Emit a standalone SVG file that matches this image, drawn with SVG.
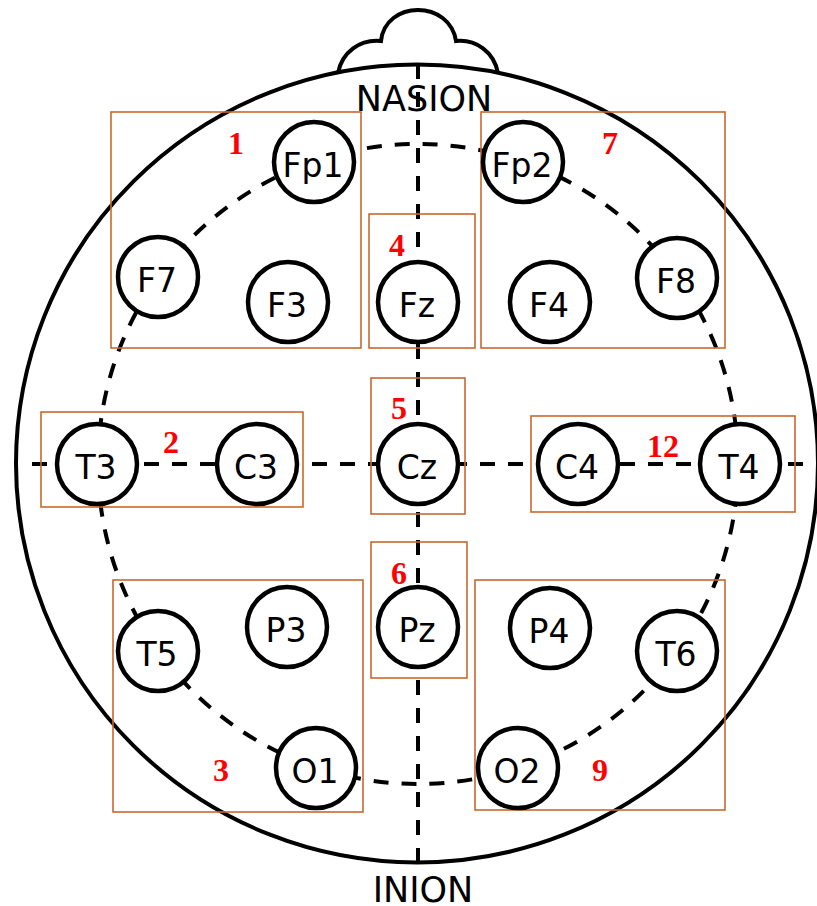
<svg xmlns="http://www.w3.org/2000/svg" width="817" height="906" viewBox="0 0 817 906">
<style>
.head{fill:none;stroke:#000;stroke-width:4}
.dash{fill:none;stroke:#000;stroke-width:4;stroke-dasharray:15 13}
.el circle{fill:#fff;stroke:#000;stroke-width:4.5}
.el text{font-family:"DejaVu Sans",sans-serif;font-size:33px;text-anchor:middle;fill:#000}
.box rect{fill:none;stroke:#c8692d;stroke-width:1.6}
.box text{font-family:"Liberation Serif",serif;font-weight:bold;font-size:32px;text-anchor:middle;fill:#ff0000}
.lm{font-family:"DejaVu Sans",sans-serif;font-size:35px;text-anchor:middle;fill:#000}
</style>
<rect width="817" height="906" fill="#fff"/>
<g id="head">
<ellipse class="head" cx="417" cy="463.5" rx="401" ry="399"/>
<path class="head" d="M 338 73 C 342 52 360 39 381 41 C 383 21 400 10 418 10 C 436 10 453 21 456 41 C 476 39 494 52 498 73"/>
</g>
<g id="connectors">
<line class="dash" x1="418" y1="64" x2="418" y2="862"/>
<line class="dash" x1="32" y1="464" x2="817" y2="464"/>
<circle class="dash" cx="418" cy="464" r="320"/>
</g>
<g id="landmarks">
<text class="lm" x="424" y="111">NASION</text>
<text class="lm" x="423" y="902">INION</text>
</g>
<g id="regions">
<g id="box1" class="box"><rect x="111" y="112" width="250" height="236"/><text x="236" y="154">1</text></g>
<g id="box2" class="box"><rect x="41" y="412" width="262" height="95"/><text x="171" y="453">2</text></g>
<g id="box3" class="box"><rect x="113" y="580" width="250" height="232"/><text x="221" y="781">3</text></g>
<g id="box4" class="box"><rect x="369" y="214" width="106" height="134"/><text x="397" y="256">4</text></g>
<g id="box5" class="box"><rect x="371" y="378" width="94" height="136"/><text x="399" y="419">5</text></g>
<g id="box6" class="box"><rect x="371" y="542" width="96" height="136"/><text x="399" y="584">6</text></g>
<g id="box7" class="box"><rect x="481" y="112" width="244" height="236"/><text x="610" y="154">7</text></g>
<g id="box9" class="box"><rect x="475" y="580" width="250" height="230"/><text x="600" y="781">9</text></g>
<g id="box12" class="box"><rect x="531" y="416" width="264" height="96"/><text x="663" y="457">12</text></g>
</g>
<g id="Fp1" class="el"><circle cx="314" cy="162" r="40"/><text x="313" y="177">Fp1</text></g>
<g id="Fp2" class="el"><circle cx="523" cy="162" r="40"/><text x="522" y="177">Fp2</text></g>
<g id="F7" class="el"><circle cx="158" cy="277" r="40"/><text x="157" y="292">F7</text></g>
<g id="F3" class="el"><circle cx="288" cy="302" r="40"/><text x="287" y="317">F3</text></g>
<g id="Fz" class="el"><circle cx="418" cy="302" r="40"/><text x="417" y="317">Fz</text></g>
<g id="F4" class="el"><circle cx="550" cy="302" r="40"/><text x="549" y="317">F4</text></g>
<g id="F8" class="el"><circle cx="677" cy="278" r="40"/><text x="676" y="293">F8</text></g>
<g id="T3" class="el"><circle cx="97" cy="464" r="40"/><text x="96" y="479">T3</text></g>
<g id="C3" class="el"><circle cx="257" cy="464" r="40"/><text x="256" y="479">C3</text></g>
<g id="Cz" class="el"><circle cx="418" cy="464" r="40"/><text x="417" y="479">Cz</text></g>
<g id="C4" class="el"><circle cx="578" cy="464" r="40"/><text x="577" y="479">C4</text></g>
<g id="T4" class="el"><circle cx="740" cy="464" r="40"/><text x="739" y="479">T4</text></g>
<g id="T5" class="el"><circle cx="158" cy="651" r="40"/><text x="157" y="666">T5</text></g>
<g id="P3" class="el"><circle cx="287" cy="627" r="40"/><text x="286" y="642">P3</text></g>
<g id="Pz" class="el"><circle cx="418" cy="627" r="40"/><text x="417" y="642">Pz</text></g>
<g id="P4" class="el"><circle cx="550" cy="628" r="40"/><text x="549" y="643">P4</text></g>
<g id="T6" class="el"><circle cx="677" cy="651" r="40"/><text x="676" y="666">T6</text></g>
<g id="O1" class="el"><circle cx="316" cy="768" r="40"/><text x="315" y="783">O1</text></g>
<g id="O2" class="el"><circle cx="518" cy="768" r="40"/><text x="517" y="783">O2</text></g>
</svg>
